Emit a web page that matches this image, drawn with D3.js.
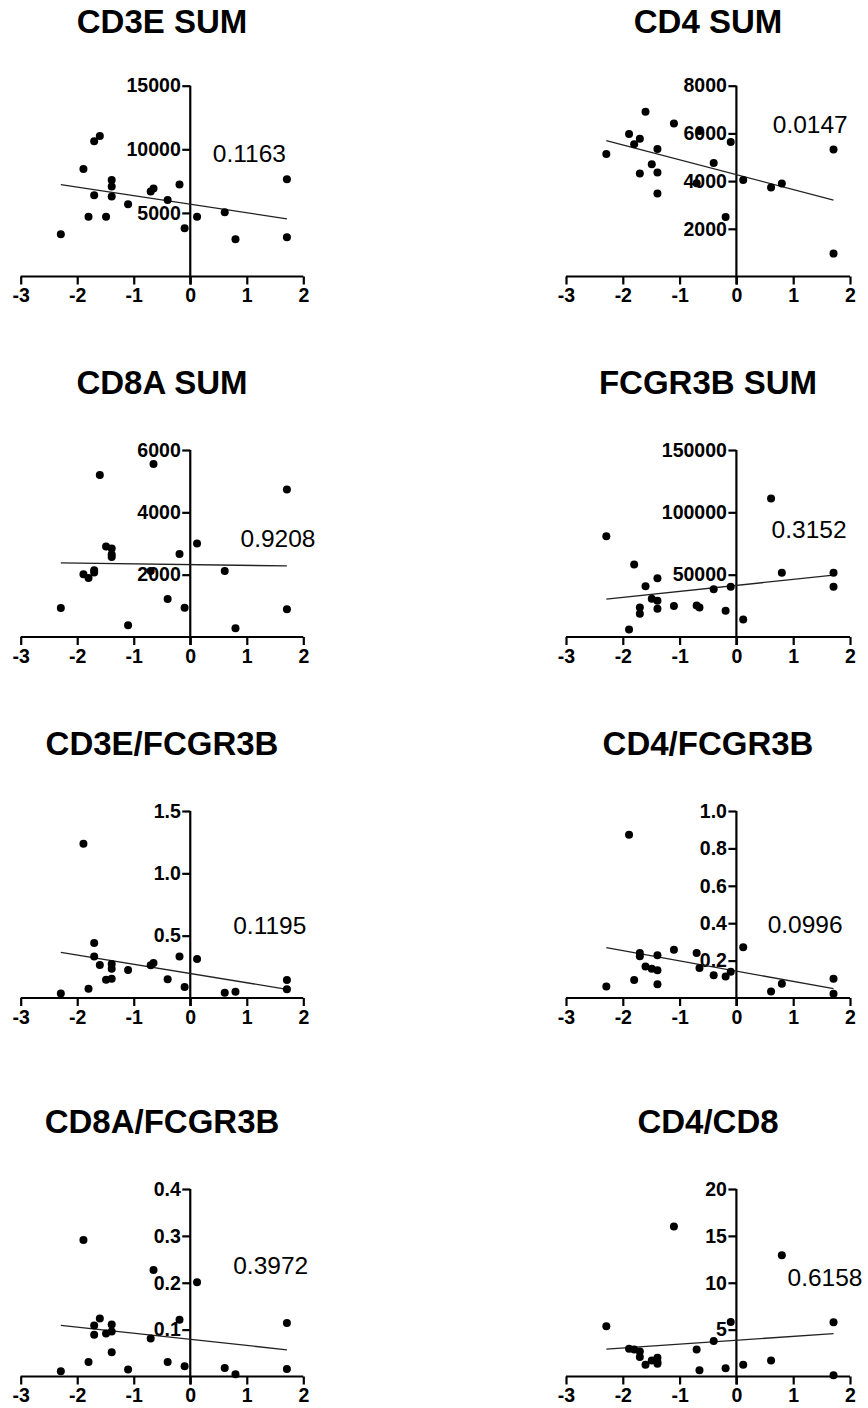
<!DOCTYPE html>
<html>
<head>
<meta charset="utf-8">
<script src="https://cdn.jsdelivr.net/npm/d3@7"></script>
<style>
  html, body { margin: 0; padding: 0; background: #fff; }
  svg { display: block; }
  text { font-family: "Liberation Sans", Arial, Helvetica, sans-serif; fill: #000; }
</style>
</head>
<body>
<svg id="chart" width="868" height="1408"></svg>
<script>
// Shared x value (score) of each of the 21 samples
const xValues = [-2.29, -1.89, -1.8, -1.7, -1.7, -1.6, -1.49, -1.39, -1.39, -1.39, -1.1,
                 -0.7, -0.65, -0.4, -0.19, -0.1, 0.12, 0.61, 0.8, 1.71, 1.71];

// Per-panel y values, same sample order as xValues
const cd3eSum = [3325, 8455, 4690, 10630, 6390, 11050, 4690, 7590, 7070, 6280, 5680,
                 6680, 6910, 6020, 7230, 3800, 4690, 5050, 2930, 7640, 3090];
const cd4Sum = [5140, 5980, 5540, 5780, 4320, 6910, 4710, 5350, 4360, 3480, 6420,
                3910, 6100, 4760, 2500, 5640, 4050, 3730, 3900, 5320, 960];
const cd8aSum = [930, 2010, 1890, 2070, 2140, 5200, 2900, 2840, 2570, 2650, 380,
                 2120, 5550, 1220, 2660, 940, 3000, 2120, 280, 4730, 890];
const fcgr3bSum = [80800, 6100, 58100, 23700, 18700, 40800, 30700, 47200, 29100, 22700, 24800,
                   25300, 23700, 38400, 21100, 40300, 14100, 111000, 51500, 51500, 40300];
const cd3eFcgr3b = [0.037, 1.238, 0.075, 0.441, 0.332, 0.265, 0.147, 0.273, 0.235, 0.155, 0.225,
                    0.262, 0.281, 0.150, 0.332, 0.088, 0.313, 0.043, 0.051, 0.144, 0.070];
const cd4Fcgr3b = [0.062, 0.873, 0.096, 0.241, 0.223, 0.168, 0.156, 0.228, 0.149, 0.074, 0.258,
                   0.241, 0.161, 0.122, 0.115, 0.140, 0.271, 0.035, 0.076, 0.103, 0.023];
const cd8aFcgr3b = [0.011, 0.291, 0.031, 0.109, 0.089, 0.124, 0.092, 0.111, 0.096, 0.052, 0.015,
                    0.081, 0.227, 0.031, 0.121, 0.022, 0.201, 0.018, 0.005, 0.114, 0.016];
const cd4Cd8 = [5.36, 2.96, 2.89, 2.68, 2.07, 1.25, 1.71, 2.0, 1.54, 1.36, 16.0,
                2.89, 0.68, 3.79, 0.89, 5.82, 1.25, 1.71, 12.93, 5.79, 0.14];

const panelTitles = ["CD3E SUM", "CD4 SUM", "CD8A SUM", "FCGR3B SUM",
                     "CD3E/FCGR3B", "CD4/FCGR3B", "CD8A/FCGR3B", "CD4/CD8"];
const pValues = ["0.1163", "0.0147", "0.9208", "0.3152", "0.1195", "0.0996", "0.3972", "0.6158"];

// Fitted line value at the lowest and highest x
const fitAtMinX = [7230, 5700, 2380, 30400, 0.366, 0.269, 0.109, 2.93];
const fitAtMaxX = [4530, 3200, 2280, 49600, 0.070, 0.050, 0.057, 4.57];

// Axis ticks
const xTicks = [-3, -2, -1, 0, 1, 2];
const yTicks = [
  [5000, 10000, 15000],
  [2000, 4000, 6000, 8000],
  [2000, 4000, 6000],
  [50000, 100000, 150000],
  [0.5, 1.0, 1.5],
  [0.2, 0.4, 0.6, 0.8, 1.0],
  [0.1, 0.2, 0.3, 0.4],
  [5, 10, 15, 20]
];
const yTickFormats = [d3.format("d"), d3.format("d"), d3.format("d"), d3.format("d"),
                      d3.format(".1f"), d3.format(".1f"), d3.format(".1f"), d3.format("d")];

const series = [cd3eSum, cd4Sum, cd8aSum, fcgr3bSum, cd3eFcgr3b, cd4Fcgr3b, cd8aFcgr3b, cd4Cd8];

// ---- layout ----
const colRange = [[20.7, 303.3], [566, 850]];
const rowBottom = [276.5, 637, 998, 1376.5];
const rowTop = [85.7, 450, 811, 1189];
// p-value label anchor: [x in data units, fraction of y-axis height]
const labelAnchor = [[0.40, 0.598], [0.64, 0.75], [0.89, 0.483], [0.62, 0.528],
                     [0.76, 0.342], [0.55, 0.346], [0.76, 0.545], [0.90, 0.484]];

const svg = d3.select("#chart");

series.forEach((ys, i) => {
  const col = i % 2, row = Math.floor(i / 2);
  const yMax = yTicks[i][yTicks[i].length - 1];
  const x = d3.scaleLinear().domain([-3, 2]).range(colRange[col]);
  const y = d3.scaleLinear().domain([0, yMax]).range([rowBottom[row], rowTop[row]]);
  const g = svg.append("g");

  // title
  g.append("text")
    .attr("x", (colRange[col][0] + colRange[col][1]) / 2)
    .attr("y", rowBottom[row] - 243.5)
    .attr("text-anchor", "middle")
    .attr("font-size", 33)
    .attr("font-weight", "bold")
    .text(panelTitles[i]);

  // x axis
  const xAxis = g.append("g")
    .attr("transform", `translate(0,${y(0)})`)
    .call(d3.axisBottom(x).tickValues(xTicks).tickFormat(d3.format("d")).tickSize(8).tickPadding(4));
  xAxis.select(".domain").attr("stroke", "#000").attr("stroke-width", 2.2).attr("d",
    `M${x(-3)},0H${x(2)}`);
  xAxis.selectAll(".tick line").attr("stroke", "#000").attr("stroke-width", 2.2);
  xAxis.selectAll(".tick text")
    .attr("font-size", 19.5).attr("font-weight", "bold")
    .attr("font-family", "'Liberation Sans', Arial, sans-serif")
    .attr("fill", "#000")
    .text(d => d < 0 ? "-" + Math.abs(d) : String(d));

  // y axis at x = 0
  const yAxis = g.append("g")
    .attr("transform", `translate(${x(0)},0)`)
    .call(d3.axisLeft(y).tickValues(yTicks[i]).tickFormat(yTickFormats[i]).tickSize(8).tickPadding(1.5));
  yAxis.select(".domain").attr("stroke", "#000").attr("stroke-width", 2.2)
    .attr("d", `M0,${y(0) + 8}V${y(yMax)}`);
  yAxis.selectAll(".tick line").attr("stroke", "#000").attr("stroke-width", 2.2);
  yAxis.selectAll(".tick text")
    .attr("font-size", 19.5).attr("font-weight", "bold")
    .attr("font-family", "'Liberation Sans', Arial, sans-serif")
    .attr("fill", "#000");

  // fitted line
  const xMin = d3.min(xValues), xMax = d3.max(xValues);
  g.append("line")
    .attr("x1", x(xMin)).attr("y1", y(fitAtMinX[i]))
    .attr("x2", x(xMax)).attr("y2", y(fitAtMaxX[i]))
    .attr("stroke", "#222").attr("stroke-width", 1.3);

  // points
  g.selectAll("circle")
    .data(ys.map((v, k) => [xValues[k], v]))
    .join("circle")
    .attr("cx", d => x(d[0]))
    .attr("cy", d => y(d[1]))
    .attr("r", 4)
    .attr("fill", "#000");

  // p-value label
  g.append("text")
    .attr("x", x(labelAnchor[i][0]))
    .attr("y", y(labelAnchor[i][1] * yMax))
    .attr("font-size", 24.5)
    .text(pValues[i]);
});
</script>
</body>
</html>
